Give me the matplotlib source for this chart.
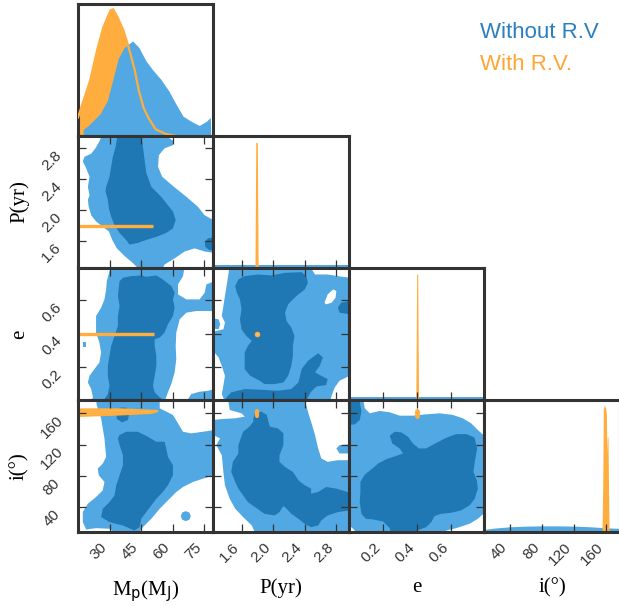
import numpy as np
import matplotlib.pyplot as plt

# ------------------#
# Data
# ------------------#

labels = [r'M$_\mathrm{p}$(M$_\mathrm{J}$)', 'P(yr)', 'e', 'i(°)']
limits = [(15, 79.5), (1.245, 2.96), (0.0, 0.795), (8, 177)]
ticks = [[30, 45, 60, 75], [1.6, 2.0, 2.4, 2.8], [0.2, 0.4, 0.6], [40, 80, 120, 160]]
tick_labels = [['30', '45', '60', '75'], ['1.6', '2.0', '2.4', '2.8'],
               ['0.2', '0.4', '0.6'], ['40', '80', '120', '160']]

# 1D marginals (normalised density)
mp_grid_norv = [17.4, 17.5, 20, 25.6, 29, 31.8, 34.2, 37, 41, 44, 47.3, 50.6, 54.4,
                58.3, 61.7, 65, 69, 72.7, 76, 78, 78.2]
mp_dens_norv = [0, 0.05, 0.08, 0.17, 0.27, 0.44, 0.59, 0.67, 0.72, 0.67, 0.57, 0.50,
                0.43, 0.34, 0.24, 0.15, 0.11, 0.08, 0.11, 0.14, 0]
mp_grid_rv = [14, 15, 20.8, 24.1, 27, 30.4, 31.7, 33.8, 36.6, 38.6, 40, 42, 44, 46.3,
              48.8, 52, 56.8, 61.7]
mp_dens_rv = [0.12, 0.14, 0.42, 0.65, 0.82, 0.95, 0.96, 0.90, 0.80, 0.70, 0.62, 0.50,
              0.34, 0.21, 0.13, 0.05, 0.015, 0.0]

p_grid_norv = [1.2, 3.0]
p_dens_norv = [0.02, 0.02]
p_grid_rv = [1.77, 1.78, 1.80, 1.81]
p_dens_rv = [0, 0.95, 0.95, 0]

e_grid_norv = [-0.1, 0.9]
e_dens_norv = [0.02, 0.02]
e_grid_rv = [0.392, 0.397, 0.403, 0.408]
e_dens_rv = [0, 0.955, 0.955, 0]

i_grid_norv = [8, 20, 40, 60, 80, 100, 120, 140, 160, 177]
i_dens_norv = [0.02, 0.03, 0.04, 0.045, 0.047, 0.047, 0.045, 0.04, 0.032, 0.028]
i_grid_rv = [154.5, 155.5, 156.2, 157.5, 159.0, 160.0, 160.6, 161.2, 162.0, 162.8, 163.4]
i_dens_rv = [0, 0.35, 0.93, 0.96, 0.94, 0.90, 0.6, 0.72, 0.72, 0.3, 0]

# 2D contours without R.V. : outer (light) and inner (dark) regions
mp_p_outer = [(26.8, 3.0), (54.6, 3.0), (60.2, 2.90), (60.2, 2.84), (56.2, 2.80), (53.5, 2.71),
              (53.1, 2.56), (55.1, 2.43), (60.2, 2.31), (66.6, 2.17), (72.1, 2.04), (75.3, 1.93),
              (80, 1.86), (80, 1.44), (75.3, 1.46), (70.5, 1.50), (65.8, 1.46), (61.0, 1.37),
              (56.2, 1.29), (54.6, 1.2), (45.1, 1.2), (41.1, 1.31), (37.2, 1.40), (33.5, 1.50),
              (31.3, 1.61), (29.7, 1.72), (26.8, 1.78), (23.6, 1.85), (21.3, 1.93), (20.1, 2.04),
              (19.7, 2.13), (20.5, 2.19), (19.7, 2.30), (20.5, 2.43), (18.9, 2.54), (17.3, 2.63),
              (18.1, 2.69), (21.3, 2.73), (23.3, 2.80), (25.2, 2.89)]
mp_p_inner = [(34.0, 3.0), (45.1, 3.0), (45.9, 2.82), (46.7, 2.65), (47.5, 2.48), (49.9, 2.30),
              (54.6, 2.17), (57.8, 2.06), (60.2, 1.98), (61.5, 1.87), (60.2, 1.76), (57.0, 1.70),
              (52.3, 1.65), (47.5, 1.61), (43.5, 1.57), (39.5, 1.55), (37.9, 1.61), (34.8, 1.70),
              (32.4, 1.80), (30.8, 1.91), (29.7, 2.02), (29.2, 2.13), (28.1, 2.24), (28.4, 2.30),
              (30.0, 2.43), (30.8, 2.56), (31.6, 2.69), (32.9, 2.82)]
mp_p_inner2 = [(80, 1.65), (76.9, 1.63), (75.3, 1.59), (75.6, 1.52), (77.4, 1.48), (80, 1.47)]

mp_e_outer = [(28.7, 0.716), (30.8, 0.81), (65.8, 0.81), (65.0, 0.746), (62.6, 0.696),
              (62.6, 0.636), (66.6, 0.606), (72.9, 0.606), (75.3, 0.646), (76.1, 0.696),
              (80, 0.716), (80, 0.536), (71.3, 0.536), (66.6, 0.526), (63.4, 0.486), (61.8, 0.406),
              (61.5, 0.326), (61.8, 0.246), (61.0, 0.166), (59.4, 0.096), (57.8, 0.046),
              (56.2, -0.01), (21.3, -0.01), (22.1, 0.016), (21.3, 0.066), (19.7, 0.106),
              (20.5, 0.146), (22.8, 0.186), (25.2, 0.226), (26.0, 0.286), (25.2, 0.346),
              (23.6, 0.406), (23.6, 0.506), (26.0, 0.556), (27.6, 0.606), (28.4, 0.666)]
mp_e_outer2 = [(66.6, -0.01), (68.9, 0.036), (72.9, 0.05), (76.9, 0.056), (80, 0.066), (80, -0.01)]
mp_e_outer3 = [(17.5, 0.35), (18.8, 0.35), (18.8, 0.32), (17.5, 0.32)]
mp_e_inner = [(34.8, 0.716), (36.4, 0.736), (40.3, 0.746), (45.1, 0.75), (47.5, 0.742),
              (52.3, 0.75), (55.4, 0.726), (59.4, 0.686), (61.0, 0.646), (60.2, 0.606),
              (61.0, 0.556), (60.2, 0.506), (57.8, 0.456), (56.2, 0.406), (53.9, 0.376),
              (51.5, 0.366), (51.5, 0.326), (52.3, 0.266), (52.3, 0.206), (51.5, 0.146),
              (50.7, 0.086), (51.5, 0.046), (53.9, 0.016), (57.0, -0.01), (26.8, -0.01),
              (29.2, 0.036), (30.0, 0.086), (29.2, 0.146), (29.2, 0.206), (30.0, 0.266),
              (30.8, 0.326), (32.4, 0.386), (34.0, 0.446), (34.0, 0.506), (34.8, 0.566),
              (34.0, 0.626), (34.5, 0.686)]

mp_i_outer = [(23.6, 178), (53.9, 178), (53.9, 166.4), (60.2, 157.9), (62.6, 147.2), (65.0, 136.4),
              (68.9, 134.3), (74.5, 136.4), (80, 138.6), (80, 80.7), (74.5, 76.4), (69.8, 72.2),
              (65.0, 65.7), (61.8, 59.3), (58.6, 50.7), (53.9, 37.9), (49.9, 25.0), (45.9, 14.3),
              (43.5, 5), (33.2, 5), (30.0, 12.2), (23.6, 13.0), (18.9, 11.3), (17.3, 20.7),
              (17.3, 33.6), (19.7, 44.3), (23.6, 52.9), (26.8, 61.5), (27.6, 72.2), (24.9, 80.7),
              (24.4, 89.3), (26.8, 95.7), (28.4, 104.3), (27.6, 127.9), (26.0, 153.6), (23.9, 170.7)]
mp_i_outer2 = [(63.9, 28.4), (64.6, 33.0), (66.3, 34.8), (68.0, 33.0), (68.7, 28.4), (68.0, 23.8),
               (66.3, 22.0), (64.6, 23.8)]
mp_i_inner = [(34.8, 132.2), (37.9, 136.4), (43.5, 136.4), (48.3, 130.0), (52.3, 123.6),
              (56.2, 123.6), (57.0, 115.0), (57.8, 104.3), (60.2, 93.6), (60.2, 80.7), (57.8, 67.9),
              (55.4, 59.3), (52.3, 50.7), (49.9, 42.2), (47.5, 33.6), (45.1, 25.0), (44.3, 14.3),
              (41.9, 10.0), (36.4, 16.4), (30.0, 20.7), (26.0, 27.2), (26.8, 37.9), (30.0, 46.4),
              (32.4, 55.0), (33.2, 67.9), (34.8, 80.7), (36.4, 93.6), (36.4, 106.4), (34.8, 119.3),
              (34.0, 127.9)]
mp_i_inner2 = [(33.2, 162.2), (34.8, 167.3), (37.9, 167.3), (39.5, 160.0), (38.7, 151.4),
               (36.0, 148.4), (33.5, 152.7)]

p_e_outer = [(1.45, 0.81), (2.46, 0.81), (2.53, 0.756), (2.69, 0.756), (2.82, 0.746), (2.97, 0.736),
             (2.97, 0.146), (2.84, 0.116), (2.78, 0.076), (2.74, 0.026), (2.72, -0.01), (1.39, -0.01),
             (1.35, 0.036), (1.37, 0.086), (1.39, 0.146), (1.35, 0.206), (1.31, 0.256), (1.24, 0.296),
             (1.24, 0.406), (1.28, 0.416), (1.37, 0.426), (1.39, 0.466), (1.35, 0.506), (1.37, 0.566),
             (1.39, 0.626), (1.41, 0.686), (1.43, 0.746)]
p_e_outer2 = [(1.26, 0.49), (1.31, 0.486), (1.33, 0.456), (1.31, 0.426), (1.25, 0.43)]
p_e_hole = [(2.65, 0.586), (2.69, 0.636), (2.76, 0.666), (2.80, 0.656), (2.79, 0.616),
            (2.74, 0.586), (2.67, 0.576)]
p_e_inner = [(1.52, 0.686), (1.56, 0.726), (1.64, 0.746), (1.81, 0.756), (1.98, 0.75), (2.15, 0.766),
             (2.36, 0.77), (2.42, 0.746), (2.44, 0.706), (2.40, 0.666), (2.32, 0.636), (2.25, 0.606),
             (2.19, 0.576), (2.15, 0.526), (2.17, 0.476), (2.23, 0.436), (2.27, 0.386), (2.25, 0.326),
             (2.25, 0.266), (2.23, 0.206), (2.19, 0.146), (2.13, 0.106), (2.02, 0.096), (1.89, 0.096),
             (1.83, 0.116), (1.71, 0.146), (1.64, 0.186), (1.64, 0.236), (1.64, 0.286), (1.68, 0.326),
             (1.73, 0.356), (1.66, 0.386), (1.60, 0.426), (1.58, 0.486), (1.60, 0.546), (1.58, 0.606),
             (1.54, 0.646)]
p_e_inner2 = [(1.39, -0.01), (1.41, 0.016), (1.47, 0.046), (1.64, 0.066), (1.85, 0.062), (2.06, 0.056),
              (2.23, 0.066), (2.32, 0.106), (2.36, 0.186), (2.44, 0.236), (2.57, 0.282), (2.63, 0.256),
              (2.59, 0.206), (2.53, 0.166), (2.61, 0.146), (2.69, 0.126), (2.67, 0.09), (2.55, 0.082),
              (2.48, 0.05), (2.44, 0.016), (2.42, -0.01)]
p_e_inner3 = [(2.97, 0.596), (2.86, 0.586), (2.82, 0.556), (2.84, 0.526), (2.97, 0.516)]

p_i_outer = [(1.43, 178), (2.40, 178), (2.44, 162.2), (2.48, 149.3), (2.53, 132.2), (2.57, 115.0),
             (2.61, 102.2), (2.69, 97.9), (2.82, 100.0), (2.97, 100.0), (2.97, 3), (1.79, 3),
             (1.73, 16.4), (1.62, 27.2), (1.52, 37.9), (1.45, 50.7), (1.39, 67.9), (1.37, 85.0),
             (1.35, 106.4), (1.28, 119.3), (1.33, 127.9), (1.24, 132.2), (1.24, 151.4), (1.35, 152.7),
             (1.52, 153.6), (1.64, 155.7), (1.60, 160.0), (1.45, 164.3)]
p_i_outer2 = [(2.80, 115.0), (2.84, 119.3), (2.97, 120.2), (2.97, 108.6), (2.84, 108.6)]
p_i_inner = [(1.75, 153.6), (1.77, 160.0), (1.85, 162.2), (1.92, 157.9), (1.94, 149.3), (1.96, 142.9),
             (2.06, 140.7), (2.13, 134.3), (2.13, 119.3), (2.08, 106.4), (2.08, 97.9), (2.15, 91.4),
             (2.25, 85.0), (2.32, 74.3), (2.40, 67.9), (2.48, 63.6), (2.48, 57.2), (2.57, 59.3),
             (2.67, 65.7), (2.80, 63.6), (2.97, 58.4), (2.97, 35.7), (2.82, 33.6), (2.69, 29.3),
             (2.61, 22.9), (2.57, 16.4), (2.48, 14.3), (2.40, 18.6), (2.32, 25.0), (2.23, 31.4),
             (2.17, 37.9), (2.13, 41.3), (2.08, 33.6), (2.02, 29.3), (1.89, 31.4), (1.77, 40.0),
             (1.68, 46.4), (1.62, 55.0), (1.56, 63.6), (1.52, 72.2), (1.47, 85.0), (1.49, 97.9),
             (1.56, 108.6), (1.56, 119.3), (1.62, 136.4), (1.70, 142.9), (1.75, 149.3)]

e_i_outer = [(-0.01, 178), (0.083, 178), (0.093, 166.4), (0.122, 160.0), (0.180, 163.0), (0.239, 161.3),
             (0.297, 157.0), (0.375, 157.0), (0.453, 158.7), (0.531, 160.0), (0.610, 157.9),
             (0.668, 153.6), (0.717, 147.2), (0.756, 138.6), (0.80, 130.0), (0.80, 33.6),
             (0.756, 25.0), (0.707, 18.6), (0.629, 13.0), (0.571, 10.0), (0.55, 3), (0.063, 3),
             (0.024, 12.2), (-0.01, 18.6)]
e_i_hole = [(0.288, 55.0), (0.336, 57.2), (0.375, 55.0), (0.385, 44.3), (0.366, 37.9),
            (0.307, 37.0), (0.288, 44.3)]
e_i_inner = [(0.239, 131.3), (0.268, 136.4), (0.307, 135.6), (0.346, 130.0), (0.375, 121.4),
             (0.410, 115.0), (0.453, 115.0), (0.496, 120.2), (0.571, 128.7), (0.629, 133.4),
             (0.688, 133.4), (0.736, 129.2), (0.752, 115.0), (0.738, 97.9), (0.730, 85.0),
             (0.750, 74.3), (0.756, 63.6), (0.738, 50.7), (0.707, 42.2), (0.658, 35.7),
             (0.600, 32.7), (0.541, 31.4), (0.502, 28.4), (0.483, 20.7), (0.453, 14.3),
             (0.399, 10.0), (0.385, 3), (0.249, 3), (0.239, 13.0), (0.200, 21.6), (0.141, 24.2),
             (0.099, 25.0), (0.073, 31.4), (0.063, 46.4), (0.067, 59.3), (0.067, 72.2),
             (0.093, 81.6), (0.132, 88.4), (0.171, 95.7), (0.219, 101.3), (0.278, 105.6),
             (0.317, 108.6), (0.297, 115.0), (0.254, 121.4)]
e_i_inner2 = [(-0.01, 176), (0.063, 175), (0.073, 162.2), (0.063, 151.4), (0.034, 145.9), (-0.01, 145)]

# 2D posteriors with R.V. (very narrow)
rv_p = 1.79
rv_e = 0.398
rv_i_span = (156.5, 163.5)
rv_mp_span_p = (14.0, 50.9)
rv_mp_span_e = (14.0, 51.0)
mp_i_rv_outer = [(14, 165.0), (35, 165.2), (53.1, 163.0), (50, 160.5), (35, 158.5), (14, 156.5)]
mp_i_rv_inner = [(14, 162.5), (30, 162.6), (45, 161.8), (30, 160.2), (14, 159.6)]

light = '#52a8e2'
dark = '#1f77b4'
orange = '#ffad3f'
spine_col = '#333333'


def fill_polys(ax, polys, color):
    for poly in polys:
        xs, ys = zip(*poly)
        ax.fill(xs, ys, color=color, lw=0)


if __name__ == '__main__':
    plt.rcParams['font.family'] = 'Liberation Sans'
    fig, axs = plt.subplots(4, 4, figsize=(6.19, 6.06), dpi=100)
    fig.subplots_adjust(left=0.126, right=1.0016, bottom=0.122, top=0.9935, wspace=0, hspace=0)

    outer = {(1, 0): [mp_p_outer], (2, 0): [mp_e_outer, mp_e_outer2, mp_e_outer3],
             (3, 0): [mp_i_outer, mp_i_outer2], (2, 1): [p_e_outer, p_e_outer2],
             (3, 1): [p_i_outer, p_i_outer2], (3, 2): [e_i_outer]}
    holes = {(2, 1): [p_e_hole], (3, 2): [e_i_hole]}
    inner = {(1, 0): [mp_p_inner, mp_p_inner2], (2, 0): [mp_e_inner],
             (3, 0): [mp_i_inner, mp_i_inner2], (2, 1): [p_e_inner, p_e_inner2, p_e_inner3],
             (3, 1): [p_i_inner], (3, 2): [e_i_inner, e_i_inner2]}

    for r in range(4):
        for c in range(4):
            ax = axs[r, c]
            if c > r:
                ax.set_visible(False)
                continue
            for s in ax.spines.values():
                s.set_linewidth(2.2)
                s.set_color(spine_col)
            ax.set_xlim(limits[c])
            ax.set_xticks(ticks[c])
            if r == c:
                ax.set_ylim(0, 1)
                ax.set_yticks([])
                ax.tick_params(axis='x', direction='in', length=6, width=0.9, color=spine_col,
                               labelbottom=False)
            else:
                ax.set_ylim(limits[r])
                ax.set_yticks(ticks[r])
                ax.tick_params(direction='in', length=6, width=0.9, color=spine_col,
                               top=True, right=True, labelbottom=False, labelleft=False)
                fill_polys(ax, outer[(r, c)], light)
                fill_polys(ax, holes.get((r, c), []), 'white')
                fill_polys(ax, inner[(r, c)], dark)
            if r == 3:
                ax.tick_params(axis='x', labelbottom=True, labelsize=11, labelcolor='#333333', pad=6)
                ax.set_xticklabels(tick_labels[c], rotation=45, ha='right')
                ax.set_xlabel(labels[c], family='Liberation Serif', fontsize=15)
                ax.xaxis.set_label_coords(0.5, -0.35)
            if c == 0 and r > 0:
                ax.tick_params(axis='y', labelleft=True, labelsize=11, labelcolor='#333333', pad=19)
                ax.set_yticklabels(tick_labels[r], rotation=45, ha='center', va='top')
                ax.set_ylabel(labels[r], family='Liberation Serif', fontsize=15)
                ax.yaxis.set_label_coords(-0.36, 0.5)

    # diagonal marginals
    ax = axs[0, 0]
    ax.fill_between(mp_grid_rv, mp_dens_rv, color=orange, lw=0, zorder=1)
    ax.fill_between(mp_grid_norv, mp_dens_norv, color=light, lw=0, zorder=2)
    ax.plot(mp_grid_rv, mp_dens_rv, color=orange, lw=1.6, zorder=3)

    axs[1, 1].fill_between(p_grid_norv, p_dens_norv, color=light, lw=0)
    axs[1, 1].fill_between(p_grid_rv, p_dens_rv, color=orange, lw=0)
    axs[2, 2].fill_between(e_grid_norv, e_dens_norv, color=light, lw=0)
    axs[2, 2].fill_between(e_grid_rv, e_dens_rv, color=orange, lw=0)
    axs[3, 3].fill_between(i_grid_norv, i_dens_norv, color=light, lw=0)
    axs[3, 3].fill_between(i_grid_rv, i_dens_rv, color=orange, lw=0)

    # with R.V. in the 2D panels
    axs[1, 0].plot(rv_mp_span_p, [rv_p, rv_p], color=orange, lw=2.4, solid_capstyle='butt')
    axs[2, 0].plot(rv_mp_span_e, [rv_e, rv_e], color=orange, lw=2.4, solid_capstyle='butt')
    xs, ys = zip(*mp_i_rv_outer)
    axs[3, 0].fill(xs, ys, facecolor='#ffc266', edgecolor=orange, lw=1.5)
    xs, ys = zip(*mp_i_rv_inner)
    axs[3, 0].fill(xs, ys, facecolor='#ffb84d', edgecolor=orange, lw=1.0)
    axs[2, 1].plot([rv_p], [rv_e], 'o', ms=3, mfc='#ffc266', mec=orange, mew=1)
    axs[3, 1].plot([rv_p, rv_p], rv_i_span, color=orange, lw=3, solid_capstyle='round')
    axs[3, 2].plot([rv_e, rv_e], rv_i_span, color=orange, lw=3.5, solid_capstyle='round')

    fig.text(0.7755, 0.947, 'Without R.V', color='#2a7fc0', fontsize=16, va='center')
    fig.text(0.7755, 0.894, 'With R.V.', color='#ffa534', fontsize=16, va='center')

    plt.savefig('out.png', dpi=100)
